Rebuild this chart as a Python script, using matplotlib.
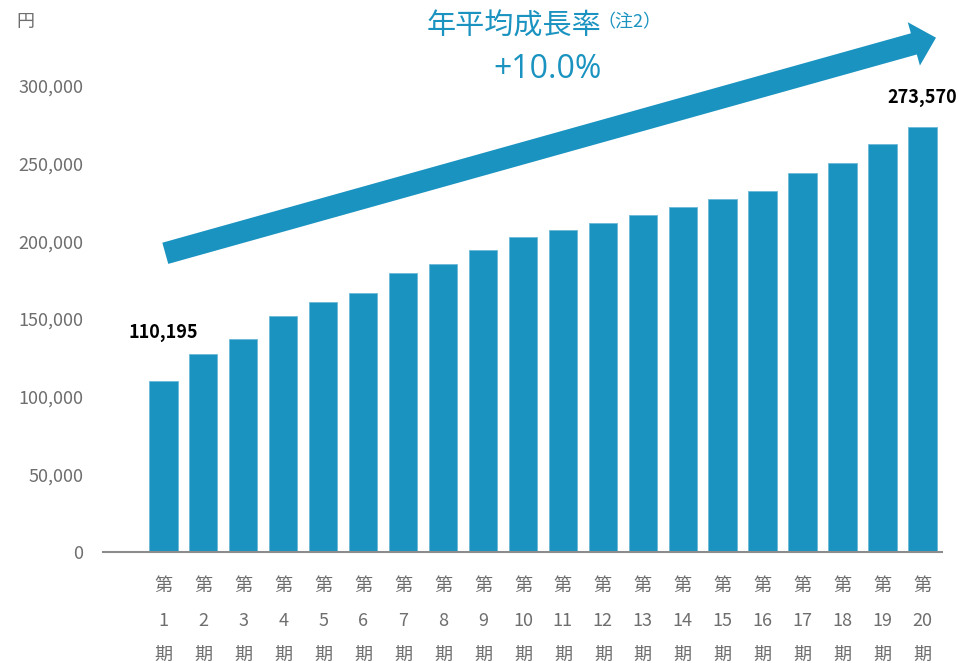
import matplotlib
matplotlib.use("Agg")
import matplotlib.pyplot as plt
from matplotlib.patches import FancyArrow

plt.rcParams['font.family'] = ['Noto Sans CJK JP', 'DejaVu Sans']

# Data
periods = [f"第\n{i}\n期" for i in range(1, 21)]
values = [110195, 127470, 137300, 151890, 160890, 166680, 179340, 185130,
          194120, 202480, 207370, 211480, 216820, 222150, 227100, 232240,
          244010, 250240, 262450, 273570]
y_ticks = [0, 50000, 100000, 150000, 200000, 250000, 300000]
y_tick_labels = ["0", "50,000", "100,000", "150,000", "200,000", "250,000", "300,000"]
unit_label = "円"
title_main = "年平均成長率"
title_note = "（注2）"
growth_text = "+10.0%"

BLUE = "#1a93c0"
GRAY = "#6e6e6e"

W, H = 959, 663
fig = plt.figure(figsize=(W / 100, H / 100), dpi=100)

ax = fig.add_axes([103 / W, (H - 552.3) / H, (942 - 103) / W, (552.3 - 85.6) / H])
x = list(range(len(values)))
ax.bar(x, values, width=0.71, color=BLUE, edgecolor="#6cb9d8", linewidth=0.6, zorder=2)
ax.set_xlim(-1.51, 19.49)
ax.set_ylim(0, 300000)

ax.set_yticks(y_ticks)
ax.set_yticklabels(y_tick_labels, fontsize=13, color=GRAY)
ax.set_xticks(x)
ax.set_xticklabels(periods, fontsize=13, color=GRAY, linespacing=2.16)
ax.tick_params(axis='y', length=0, pad=14)
ax.tick_params(axis='x', length=0, pad=18)

for s in ["top", "right", "left"]:
    ax.spines[s].set_visible(False)
ax.spines["bottom"].set_color("#8c8c8c")
ax.spines["bottom"].set_linewidth(1.5)

# Value labels for first and last periods
ax.annotate(f"{values[0]:,}", (x[0], values[0]), xytext=(0, 28), textcoords="offset points",
            ha="center", va="bottom", fontsize=13, fontweight="bold", color="black")
ax.annotate(f"{values[-1]:,}", (x[-1], values[-1]), xytext=(0, 14), textcoords="offset points",
            ha="center", va="bottom", fontsize=13, fontweight="bold", color="black")

# Overlay in pixel coordinates for the trend arrow and headings
ov = fig.add_axes([0, 0, 1, 1])
ov.set_xlim(0, W)
ov.set_ylim(H, 0)
ov.axis("off")
ov.patch.set_alpha(0)

x0, y0 = 165.3, 253.3
x1, y1 = 936.0, 37.7
ov.add_patch(FancyArrow(x0, y0, x1 - x0, y1 - y0, width=22, head_width=45,
                        head_length=23, length_includes_head=True,
                        color=BLUE, linewidth=0))

ov.text(25, 22, unit_label, fontsize=13, color=GRAY, ha="center", va="center")
ov.text(601, 27, title_main, fontsize=21, color=BLUE, ha="right", va="center")
ov.text(597, 22, title_note, fontsize=13, color=BLUE, ha="left", va="center")
ov.text(548, 70, growth_text, fontsize=23, color=BLUE, ha="center", va="center",
        family=["Open Sans", "DejaVu Sans"])

fig.savefig("out.png", dpi=100)
